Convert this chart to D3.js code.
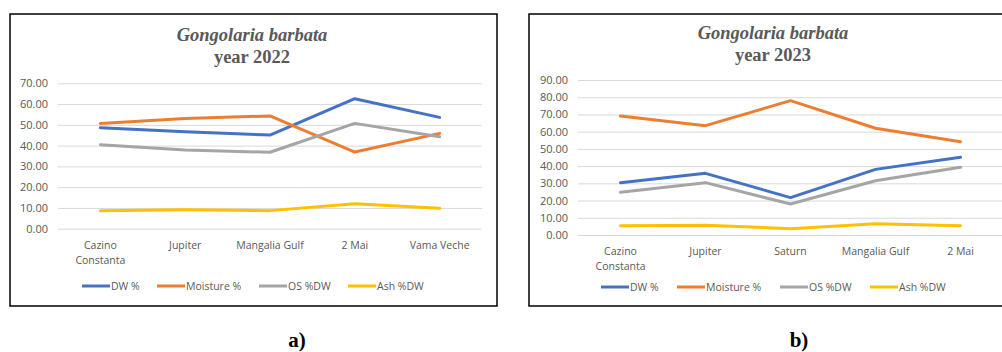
<!DOCTYPE html>
<html>
<head>
<meta charset="utf-8">
<script src="https://cdn.jsdelivr.net/npm/d3@7"></script>
<style>
  html, body { margin: 0; padding: 0; background: #fff; overflow: hidden; }
  svg { display: block; }
</style>
</head>
<body>
<svg id="chart" width="1002" height="352"></svg>
<script>
// Sampling sites
const sites2022 = [["Cazino", "Constanta"], ["Jupiter"], ["Mangalia Gulf"], ["2 Mai"], ["Vama Veche"]];
const sites2023 = [["Cazino", "Constanta"], ["Jupiter"], ["Saturn"], ["Mangalia Gulf"], ["2 Mai"]];

// Series names
const seriesNames = ["DW %", "Moisture %", "OS %DW", "Ash %DW"];

// 2022 values
const dw2022 = [48.6, 46.7, 45.1, 62.6, 53.6];
const moisture2022 = [50.7, 53.1, 54.3, 36.9, 45.9];
const os2022 = [40.4, 37.9, 36.8, 50.7, 44.3];
const ash2022 = [8.7, 9.1, 8.7, 12.0, 9.8];

// 2023 values
const dw2023 = [30.4, 35.8, 21.7, 38.1, 45.1];
const moisture2023 = [69.1, 63.5, 78.0, 62.0, 54.2];
const os2023 = [24.8, 30.4, 18.0, 31.5, 39.3];
const ash2023 = [5.4, 5.6, 3.7, 6.6, 5.4];

// Y tick values
const ticks2022 = [0, 10, 20, 30, 40, 50, 60, 70];
const ticks2023 = [0, 10, 20, 30, 40, 50, 60, 70, 80, 90];

const colors = ["#4472C4", "#ED7D31", "#A5A5A5", "#FFC000"];
const labelFont = "'Open Sans', 'Noto Sans', sans-serif";

const svg = d3.select("#chart");

function drawPanel(opt) {
  const g = svg.append("g");

  // frame
  g.append("rect")
    .attr("x", opt.box[0]).attr("y", opt.box[1])
    .attr("width", opt.box[2]).attr("height", opt.box[3])
    .attr("fill", "#fff").attr("stroke", "#000").attr("stroke-width", 1.5);

  // title
  const title = g.append("text")
    .attr("x", opt.titleX)
    .attr("text-anchor", "middle")
    .attr("fill", "#595959")
    .attr("font-family", "'Liberation Serif', 'Times New Roman', serif")
    .attr("font-weight", "bold")
    .attr("font-size", 18.5);
  title.append("tspan").attr("x", opt.titleX).attr("y", opt.titleY)
    .attr("font-style", "italic").text("Gongolaria barbata");
  title.append("tspan").attr("x", opt.titleX).attr("y", opt.titleY + 22)
    .text(opt.year);

  const x = d3.scaleBand()
    .domain(d3.range(opt.sites.length))
    .range([opt.plot[0], opt.plot[1]]);
  const y = d3.scaleLinear()
    .domain([0, d3.max(opt.ticks)])
    .range([opt.plot[3], opt.plot[2]]);

  // gridlines + y labels
  const yAxis = d3.axisLeft(y)
    .tickValues(opt.ticks)
    .tickSize(-(opt.plot[1] - opt.plot[0]))
    .tickPadding(10)
    .tickFormat(d3.format(".2f"));
  const ya = g.append("g")
    .attr("transform", `translate(${opt.plot[0]},0)`)
    .call(yAxis);
  ya.select(".domain").remove();
  ya.selectAll(".tick line").attr("stroke", "#d9d9d9").attr("stroke-width", 1);
  ya.selectAll(".tick text")
    .attr("fill", "#595959")
    .attr("font-family", labelFont)
    .attr("font-size", 11);

  // category labels
  const xa = g.append("g");
  opt.sites.forEach((lines, i) => {
    const t = xa.append("text")
      .attr("text-anchor", "middle")
      .attr("fill", "#595959")
      .attr("font-family", labelFont)
      .attr("font-size", 10.5);
    lines.forEach((s, j) => {
      t.append("tspan")
        .attr("x", x(i) + x.bandwidth() / 2)
        .attr("y", opt.plot[3] + 20 + j * 15)
        .text(s);
    });
  });

  // series lines
  const line = d3.line()
    .x((d, i) => x(i) + x.bandwidth() / 2)
    .y(d => y(d));
  opt.series.forEach((vals, k) => {
    g.append("path")
      .datum(vals)
      .attr("d", line)
      .attr("fill", "none")
      .attr("stroke", colors[k])
      .attr("stroke-width", 3)
      .attr("stroke-linejoin", "round")
      .attr("stroke-linecap", "round");
  });

  // legend
  const lg = g.append("g");
  seriesNames.forEach((name, k) => {
    const lx = opt.legendX[k];
    lg.append("line")
      .attr("x1", lx).attr("x2", lx + 28)
      .attr("y1", opt.legendY).attr("y2", opt.legendY)
      .attr("stroke", colors[k]).attr("stroke-width", 3);
    lg.append("text")
      .attr("x", lx + 29).attr("y", opt.legendY + 3.5)
      .attr("fill", "#595959")
      .attr("font-family", labelFont)
      .attr("font-size", 10.5)
      .text(name);
  });

  // panel tag
  g.append("text")
    .attr("x", opt.tagX).attr("y", 347)
    .attr("text-anchor", "middle")
    .attr("font-family", "'Liberation Serif', 'Times New Roman', serif")
    .attr("font-weight", "bold")
    .attr("font-size", 21)
    .attr("fill", "#000")
    .text(opt.tag);
}

drawPanel({
  box: [10, 14, 487, 292],
  titleX: 252, titleY: 41, year: "year 2022",
  sites: sites2022,
  ticks: ticks2022,
  plot: [58, 482, 83.3, 228.7],
  series: [dw2022, moisture2022, os2022, ash2022],
  legendX: [82, 157, 259, 348],
  legendY: 286,
  tag: "a)", tagX: 297
});

drawPanel({
  box: [529, 14, 480, 292],
  titleX: 773, titleY: 39, year: "year 2023",
  sites: sites2023,
  ticks: ticks2023,
  plot: [578, 1003, 80, 235],
  series: [dw2023, moisture2023, os2023, ash2023],
  legendX: [601, 677, 780, 870],
  legendY: 287,
  tag: "b)", tagX: 799
});
</script>
</body>
</html>
